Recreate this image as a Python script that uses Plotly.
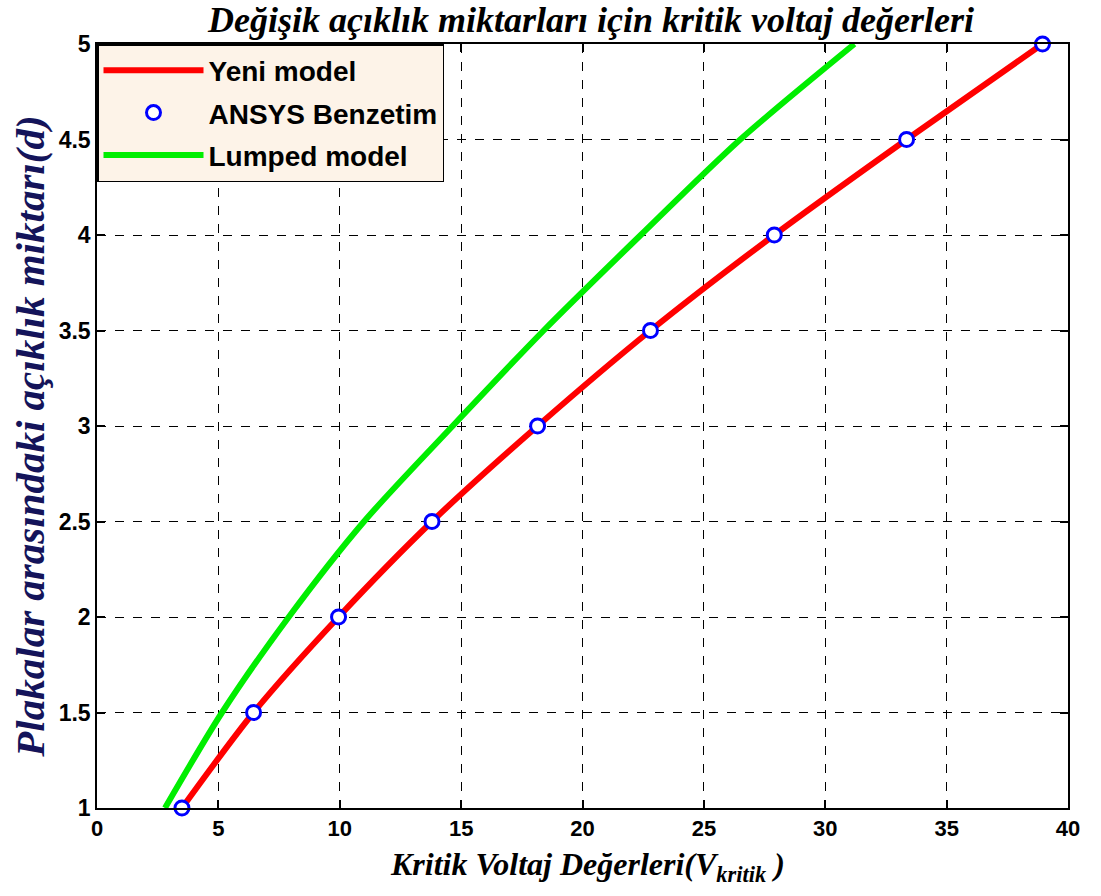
import plotly.graph_objects as go

# Plate gap d and the critical voltages for each model
gap_d = [1.0, 1.5, 2.0, 2.5, 3.0, 3.5, 4.0, 4.5, 5.0]
v_yeni = [3.5, 6.45, 9.95, 13.8, 18.15, 22.8, 27.9, 33.35, 38.95]
v_ansys = [3.5, 6.45, 9.95, 13.8, 18.15, 22.8, 27.9, 33.35, 38.95]
v_lumped = [2.8, 5.15, 7.9, 11.0, 14.65, 18.4, 22.4, 26.5, 31.2]

x_ticks = [0, 5, 10, 15, 20, 25, 30, 35, 40]
y_ticks = [1, 1.5, 2, 2.5, 3, 3.5, 4, 4.5, 5]

serif = "Liberation Serif, Times New Roman, serif"
sans = "Liberation Sans, Arial, sans-serif"

fig = go.Figure()
fig.add_trace(go.Scatter(
    x=v_yeni, y=gap_d, mode="lines", name="Yeni model", legendgroup="a",
    line=dict(color="#ff0000", width=6, shape="spline", smoothing=0.8),
))
fig.add_trace(go.Scatter(
    x=v_ansys, y=gap_d, mode="markers", name="ANSYS Benzetim", legendgroup="b",
    marker=dict(symbol="circle", size=14, color="white",
                line=dict(color="#0000ff", width=3)),
    cliponaxis=False,
))
fig.add_trace(go.Scatter(
    x=v_lumped, y=gap_d, mode="lines", name="Lumped model", legendgroup="c",
    line=dict(color="#00ee00", width=6, shape="spline", smoothing=0.8),
))

axis_common = dict(
    showline=True, linecolor="black", linewidth=1.5, mirror="ticks",
    ticks="inside", ticklen=8, tickcolor="black", tickwidth=1.5,
    showgrid=True, gridcolor="black", gridwidth=1, griddash="dash",
    zeroline=False,
)

fig.update_xaxes(
    range=[0, 40], tickvals=x_ticks,
    tickfont=dict(family=sans, size=22, color="black", weight="bold"),
    **axis_common,
)
fig.update_yaxes(
    range=[1, 5], tickvals=y_ticks,
    tickfont=dict(family=sans, size=23, color="black", weight="bold"),
    **axis_common,
)

fig.update_layout(
    width=1101, height=896,
    margin=dict(l=97, r=33, t=44, b=88),
    paper_bgcolor="white", plot_bgcolor="white",
    showlegend=True,
    legend=dict(
        x=0, y=1, xanchor="left", yanchor="top",
        bgcolor="#fdf3e8", bordercolor="black", borderwidth=1.5,
        font=dict(family=sans, size=28, color="black", weight="bold"),
        itemwidth=100, tracegroupgap=3,
    ),
    annotations=[
        dict(text="Değişik açıklık miktarları için kritik voltaj değerleri",
             xref="paper", yref="paper", x=0.508, y=1.0, yshift=24,
             showarrow=False, xanchor="center", yanchor="middle",
             font=dict(family=serif, size=36, color="black",
                       weight="bold", style="italic")),
        dict(text="Kritik Voltaj Değerleri(V<sub>kritik</sub> )",
             xref="paper", yref="paper", x=0.505, y=0, yshift=-58,
             showarrow=False, xanchor="center", yanchor="middle",
             font=dict(family=serif, size=32, color="black",
                       weight="bold", style="italic")),
        dict(text="Plakalar arasındaki açıklık miktarı(d)",
             xref="paper", yref="paper", x=0, xshift=-67, y=0.486,
             textangle=-90, showarrow=False,
             xanchor="center", yanchor="middle",
             font=dict(family=serif, size=41, color="#14145a",
                       weight="bold", style="italic")),
    ],
)

fig.write_html("out.html")
